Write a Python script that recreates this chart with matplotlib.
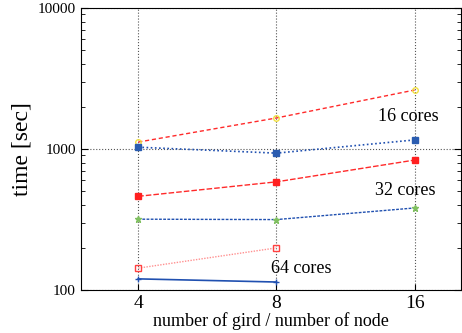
import matplotlib.pyplot as plt

plt.rcParams['font.family'] = ['Liberation Serif', 'DejaVu Serif']

nodes = [4, 8, 16]

# 16 cores
t16_a = [1120, 1660, 2620]
t16_b = [1030, 935, 1160]
# 32 cores
t32_a = [462, 585, 835]
t32_b = [318, 316, 382]
# 64 cores
t64_a = [143, 199]
t64_b = [120, 114]

fig = plt.figure(figsize=(4.62, 3.33), dpi=100)
ax = fig.add_axes([0.175, 0.129, 0.823, 0.847])

ax.plot(nodes, t16_a, color='#ff2a2a', ls=(0, (3, 2)), lw=1,
        marker='o', ms=4, mfc='none', mec='#f0e040')
ax.plot(nodes, t16_b, color='#2050b0', ls=(0, (1, 1.5)), lw=1.2,
        marker='s', ms=4, mfc='#2a5cb0', mec='#2a5cb0')
ax.plot(nodes, t32_a, color='#ff2a2a', ls=(0, (4, 1.5)), lw=1,
        marker='s', ms=5, mfc='#ff2020', mec='#ff2020')
ax.plot(nodes, t32_b, color='#2050b0', ls=(0, (2, 1)), lw=1,
        marker='*', ms=5, mfc='#80c060', mec='#80c060')
ax.plot(nodes[:2], t64_a, color='#ff9090', ls=(0, (1, 1)), lw=1,
        marker='s', ms=5, mfc='none', mec='#ff4040')
ax.plot(nodes[:2], t64_b, color='#2050b0', ls='-', lw=1.2,
        marker='+', ms=4, mec='#2050b0')

ax.set_xscale('log', base=2)
ax.set_yscale('log')
ax.set_xlim(3.0, 20.2)
ax.set_ylim(100, 10000)
ax.set_xticks(nodes)
ax.set_xticklabels(['4', '8', '16'], fontsize=14)
ax.minorticks_off()
ax.set_yticks([100, 1000, 10000])
ax.set_yticklabels(['100', '1000', '10000'], fontsize=11)
ax.set_yticks([200, 300, 400, 500, 600, 700, 800, 900,
               2000, 3000, 4000, 5000, 6000, 7000, 8000, 9000], minor=True)
ax.tick_params(axis='y', which='both', direction='in', right=True)
ax.tick_params(axis='y', which='major', length=5)
ax.tick_params(axis='y', which='minor', length=3)
ax.tick_params(axis='x', direction='in', top=False, length=4)

ax.grid(True, which='major', ls=':', color='#555555', lw=0.8)

ax.set_ylabel('time [sec]', fontsize=17)
ax.set_xlabel('number of gird / number of node', fontsize=13, labelpad=0)

ax.text(13.3, 1690, '16 cores', fontsize=13, ha='left', va='center')
ax.text(13.1, 505, '32 cores', fontsize=13, ha='left', va='center')
ax.text(7.8, 142, '64 cores', fontsize=13, ha='left', va='center')

plt.savefig('out.png', dpi=100)
